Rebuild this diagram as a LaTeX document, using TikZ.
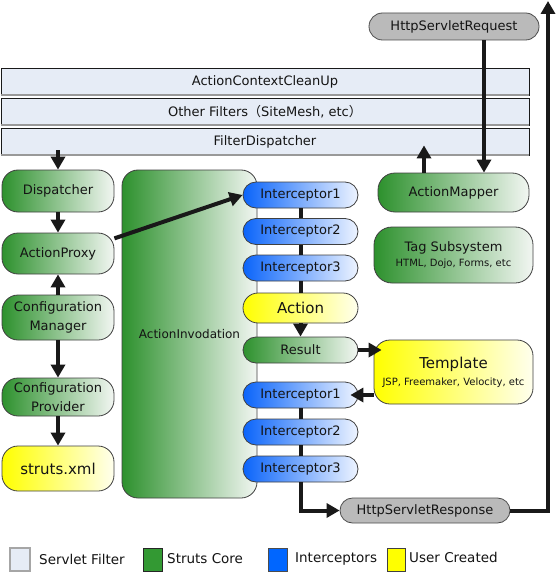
\documentclass[tikz,border=0pt]{standalone}
\usepackage{fontspec}
\setmainfont{DejaVu Sans}
\newfontfamily\cjk{Noto Sans CJK JP}
\usetikzlibrary{arrows.meta,calc}
\definecolor{txt}{RGB}{20,20,20}
\definecolor{gL}{RGB}{45,145,45}
\definecolor{gR}{RGB}{242,246,242}
\definecolor{bL}{RGB}{10,100,250}
\definecolor{bR}{RGB}{238,244,255}
\definecolor{yL}{RGB}{255,255,0}
\definecolor{yR}{RGB}{255,255,238}
\definecolor{gP}{RGB}{186,186,186}
\definecolor{fB}{RGB}{230,236,246}
\definecolor{legG}{RGB}{51,153,51}
\definecolor{legB}{RGB}{0,102,255}
\newcommand\fsz[2]{\fontsize{#1}{#2}\selectfont}
\begin{document}
\begin{tikzpicture}[x=1pt,y=-1pt,
  base/.style={draw=black!75, line width=0.8pt, inner sep=0pt, align=center, text=txt, font=\fsz{13}{16}},
  grn/.style={base, left color=gL, right color=gR},
  lcol/.style={grn, minimum width=112pt, rounded corners=16pt},
  blu/.style={base, left color=bL, right color=bR, rounded corners=13pt, minimum width=115pt, minimum height=26pt},
  yel/.style={base, left color=yL, right color=yR},
  gry/.style={base, fill=gP, draw=black!70},
  filt/.style={base, fill=fB, draw=black!90, minimum width=528pt, minimum height=27pt},
  arr/.style={line width=4pt, draw=black!90, -{Triangle[width=14pt,length=13pt]}},
  lnk/.style={line width=4pt, draw=black!90},
  legbox/.style={line width=1pt, minimum height=23pt, inner sep=0pt},
  legtxt/.style={anchor=west, font=\fsz{13.5}{16}, inner sep=0pt, text=txt}
]
\useasboundingbox (0,0) rectangle (556,572);
\fill[white] (0,0) rectangle (556,572);

% filter bars
\node[filt] (bar1) at (265,81.5) {ActionContextCleanUp};
\node[filt] (bar2) at (265,111.5) {Other Filters{\cjk （}SiteMesh, etc{\cjk ）}};
\node[filt] (bar3) at (265,141.5) {FilterDispatcher};
\foreach \b in {bar1,bar2,bar3}
  \draw[gray!80, line width=2.4pt] ([yshift=0.4pt]\b.south west) -- ([yshift=0.4pt]\b.south east);

% request
\node[gry, minimum width=170pt, minimum height=27pt, rounded corners=13.5pt] (req) at (454,26.5) {HttpServletRequest};

% left column
\node[lcol, minimum height=42pt] (disp) at (58,191) {Dispatcher};
\node[lcol, minimum height=41pt] (ap) at (58,253.5) {ActionProxy};
\node[lcol, minimum height=45pt, font=\fsz{13}{19}] (cm) at (58,317.5) {Configuration\\Manager};
\node[lcol, minimum height=38pt, font=\fsz{13}{19}] (cp) at (58,397) {Configuration\\Provider};
\node[yel, minimum width=112pt, minimum height=45pt, rounded corners=16pt, font=\fsz{15}{18}] (sx) at (58,468.5) {struts.xml};

% action invocation
\node[grn, minimum width=135pt, minimum height=328pt, rounded corners=16pt, font=\fsz{12}{15}] (ai) at (189.5,334) {ActionInvodation};

% interceptor column
\node[blu] (i1) at (300.5,195) {Interceptor1};
\node[blu] (i2) at (300.5,231.5) {Interceptor2};
\node[blu] (i3) at (300.5,268) {Interceptor3};
\node[yel, minimum width=115pt, minimum height=30pt, rounded corners=15pt, font=\fsz{15}{18}] (act) at (300.5,308) {Action};
\node[grn, minimum width=115pt, minimum height=26pt, rounded corners=13pt] (res) at (300.5,350) {Result};
\node[blu] (i1b) at (300.5,395) {Interceptor1};
\node[blu] (i2b) at (300.5,432) {Interceptor2};
\node[blu] (i3b) at (300.5,469) {Interceptor3};

% right column
\node[grn, minimum width=151pt, minimum height=39pt, rounded corners=17pt] (am) at (453.5,192.5) {ActionMapper};
\node[grn, minimum width=159pt, minimum height=56pt, rounded corners=18pt] (tag) at (453.5,255)
  {\fsz{13}{16}Tag Subsystem\\[-1pt]\fsz{10}{13}HTML, Dojo, Forms, etc};
\node[yel, minimum width=159pt, minimum height=64pt, rounded corners=16pt] (tpl) at (453.5,372)
  {\fsz{15}{18}Template\\[1pt]\fsz{10}{13}JSP, Freemaker, Velocity, etc};
\node[gry, minimum width=170pt, minimum height=25pt, rounded corners=12.5pt] (resp) at (425,510.5) {HttpServletResponse};
\coordinate (topend) at (548,1);

% connectors
\draw[arr] ([xshift=30pt]req.south) -- ([xshift=30.5pt]am.north);
\draw[arr] ([xshift=-29.5pt]am.north) -- ([xshift=-29.5pt,yshift=10pt]am.north |- bar3.south);
\draw[arr] ([yshift=5pt]disp.north |- bar3.south) -- (disp.north);
\draw[arr] (disp.south) -- (ap.north);
\draw[arr] (cm.north) -- (ap.south);
\draw[arr] (cm.south) -- (cp.north);
\draw[arr] (cp.south) -- (sx.north);
\draw[arr] (ap.15) -- (i1.west);
\draw[lnk] (i1.south) -- (i2.north);
\draw[lnk] (i2.south) -- (i3.north);
\draw[lnk] (i3.south) -- (act.north);
\draw[arr] (act.south) -- (res.north);
\draw[arr] (res.east) -- ([xshift=8pt]tpl.west |- res.east);
\draw[arr] (tpl.west |- i1b.east) -- ([xshift=-8pt]i1b.east);
\draw[lnk] (i1b.south) -- (i2b.north);
\draw[lnk] (i2b.south) -- (i3b.north);
\draw[arr] (i3b.south) |- (resp.west);
\draw[arr] (resp.east) -| (topend);

% legend
\node[legbox, fill=fB, draw=gray!70, line width=1.5pt, minimum width=20pt] (lg1) at (20,559.5) {};
\node[legtxt] (lt1) at (39,559) {Servlet Filter};
\node[legbox, fill=legG, draw=black!85, minimum width=19pt] (lg2) at (152.5,559.5) {};
\node[legtxt] (lt2) at (167,559) {Struts Core};
\node[legbox, fill=legB, draw=black!70, minimum width=19pt] (lg3) at (277.5,559.5) {};
\node[legtxt] (lt3) at (295,559) {Interceptors};
\node[legbox, fill=yL, draw=black!75, minimum width=18pt] (lg4) at (396,559.5) {};
\node[legtxt] (lt4) at (409,557) {User Created};
\end{tikzpicture}
\end{document}
